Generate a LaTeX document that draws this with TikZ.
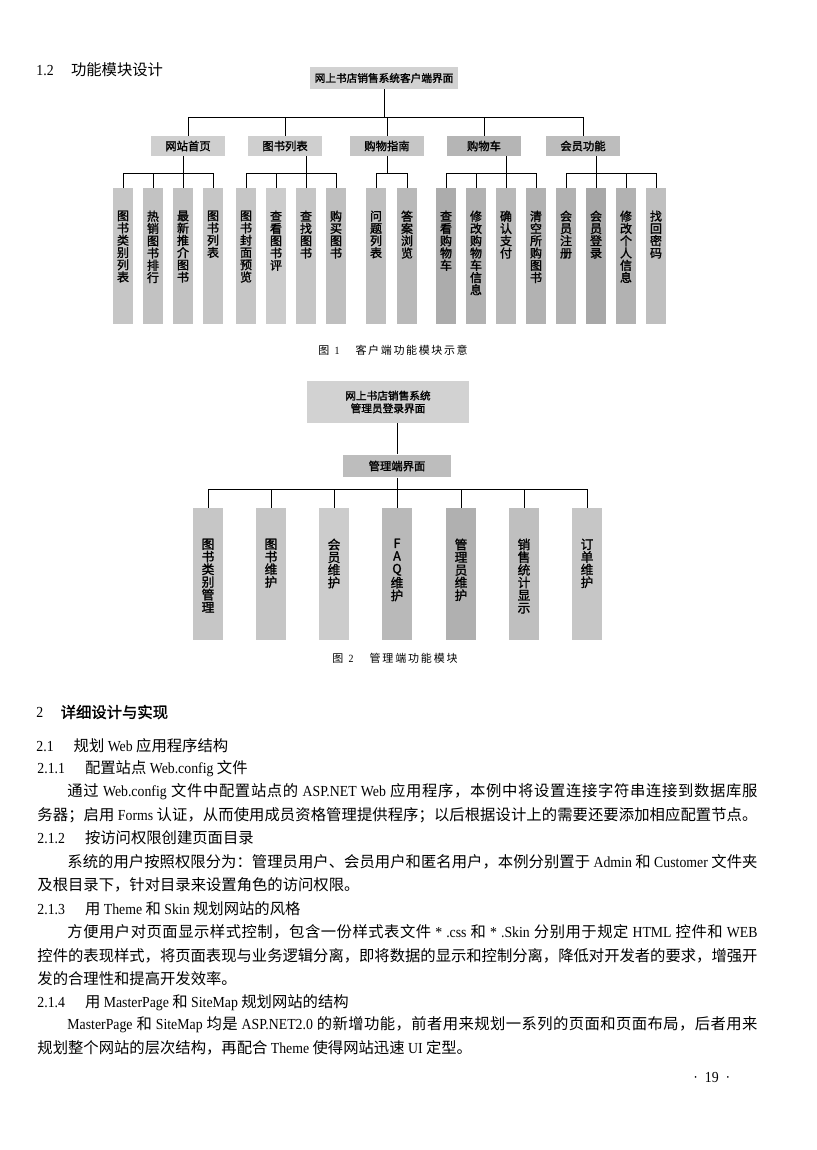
\documentclass[tikz,border=0pt]{standalone}
\usepackage{fontspec}
\setmainfont{Noto Sans CJK SC}
\newfontfamily\latf[FakeStretch=0.9]{Liberation Serif}
\newfontfamily\heifont[FakeBold=1.5]{Noto Sans CJK SC}
% stretchable glue between Chinese characters, for the justified lines
\XeTeXinterchartokenstate=1
\newXeTeXintercharclass\hanzicls
\newcount\hzc
\hzc="4E00
\loop \XeTeXcharclass\hzc=\hanzicls \advance\hzc by 1 \ifnum\hzc<"A000 \repeat
\XeTeXcharclass"FF0C=\hanzicls \XeTeXcharclass"FF1B=\hanzicls \XeTeXcharclass"FF1A=\hanzicls
\XeTeXcharclass"3001=\hanzicls \XeTeXcharclass"3002=\hanzicls
\XeTeXinterchartoks\hanzicls\hanzicls={\hskip 0pt plus 1pt minus 0.3pt\relax}
\newcommand{\lat}[1]{{\latf #1}}
% vertical labels inside the narrow boxes
\newcommand{\leaftxt}[1]{\parbox[c][102pt][t]{15pt}{\centering\heifont\fontsize{9}{9.2}\selectfont\vskip 17pt #1\par}}
\newcommand{\admintxt}[1]{\parbox[c][99pt][t]{22.5pt}{\centering\heifont\fontsize{9.5}{9.5}\selectfont\vskip 23pt #1\par}}

\begin{document}
\begin{tikzpicture}[x=0.75pt, y=-0.75pt, line width=0.7pt,
  rootbox/.style={fill=gray!35, inner sep=0, minimum width=111pt, minimum height=16pt, font=\heifont\fontsize{8}{9.5}\selectfont},
  modbox/.style={inner sep=0, minimum width=55.5pt, minimum height=15pt, font=\heifont\fontsize{8.5}{10}\selectfont},
  leaf/.style={inner sep=0, minimum width=15pt},
  adminleaf/.style={inner sep=0, minimum width=22.5pt},
  txt/.style={inner sep=0, anchor=west, font=\fontsize{11.5}{13}\selectfont},
  capt/.style={inner sep=0, font=\fontsize{8.25}{10}\selectfont}]
  % Page
  \fill[white] (0,0) rectangle (817,1150);
  \node[txt] (h12) at (36,70) {\lat{1.2}\hspace{13pt}功能模块设计};
  % Client side: root and modules
  \node[rootbox] (kroot) at (384,78) {网上书店销售系统客户端界面};
  \node[modbox, fill=gray!38] (m1) at (188,146) {网站首页};
  \node[modbox, fill=gray!38] (m2) at (285,146) {图书列表};
  \node[modbox, fill=gray!45] (m3) at (387,146) {购物指南};
  \node[modbox, fill=gray!58] (m4) at (484,146) {购物车};
  \node[modbox, fill=gray!52] (m5) at (583,146) {会员功能};
  \coordinate (kbus) at (0,117);
  \draw (m1.north) -- (m1.north |- kbus) -| (m5.north);
  \foreach \m in {m2,m3,m4}
    \draw (\m.north) -- (\m.north |- kbus);
  \draw (kroot.south) -- (kroot.south |- kbus);
  % Client side: leaves
  \node[leaf, fill=gray!45] (l11) at (123,256) {\leaftxt{图\\书\\类\\别\\列\\表}};
  \node[leaf, fill=gray!48] (l12) at (153,256) {\leaftxt{热\\销\\图\\书\\排\\行}};
  \node[leaf, fill=gray!48] (l13) at (183,256) {\leaftxt{最\\新\\推\\介\\图\\书}};
  \node[leaf, fill=gray!45] (l14) at (213,256) {\leaftxt{图\\书\\列\\表}};
  \node[leaf, fill=gray!45] (l21) at (246,256) {\leaftxt{图\\书\\封\\面\\预\\览}};
  \node[leaf, fill=gray!40] (l22) at (276,256) {\leaftxt{查\\看\\图\\书\\评}};
  \node[leaf, fill=gray!45] (l23) at (306,256) {\leaftxt{查\\找\\图\\书}};
  \node[leaf, fill=gray!50] (l24) at (336,256) {\leaftxt{购\\买\\图\\书}};
  \node[leaf, fill=gray!50] (l31) at (376,256) {\leaftxt{问\\题\\列\\表}};
  \node[leaf, fill=gray!55] (l32) at (407,256) {\leaftxt{答\\案\\浏\\览}};
  \node[leaf, fill=gray!65] (l41) at (446,256) {\leaftxt{查\\看\\购\\物\\车}};
  \node[leaf, fill=gray!60] (l42) at (476,256) {\leaftxt{修\\改\\购\\物\\车\\信\\息}};
  \node[leaf, fill=gray!55] (l43) at (506,256) {\leaftxt{确\\认\\支\\付}};
  \node[leaf, fill=gray!60] (l44) at (536,256) {\leaftxt{清\\空\\所\\购\\图\\书}};
  \node[leaf, fill=gray!60] (l51) at (566,256) {\leaftxt{会\\员\\注\\册}};
  \node[leaf, fill=gray!68] (l52) at (596,256) {\leaftxt{会\\员\\登\\录}};
  \node[leaf, fill=gray!60] (l53) at (626,256) {\leaftxt{修\\改\\个\\人\\信\\息}};
  \node[leaf, fill=gray!50] (l54) at (656,256) {\leaftxt{找\\回\\密\\码}};
  \coordinate (lbus) at (0,173);
  \draw (l11.north) -- (l11.north |- lbus) -| (l14.north);
  \draw (l13.north |- m1.south) -- (l13.north);
  \draw (l12.north) -- (l12.north |- lbus);
  \draw (l21.north) -- (l21.north |- lbus) -| (l24.north);
  \draw (l23.north |- m2.south) -- (l23.north);
  \draw (l22.north) -- (l22.north |- lbus);
  \draw (l31.north) -- (l31.north |- lbus) -| (l32.north);
  \draw (m3.south) -- (m3.south |- lbus);
  \draw (l41.north) -- (l41.north |- lbus) -| (l44.north);
  \draw (l43.north |- m4.south) -- (l43.north);
  \draw (l42.north) -- (l42.north |- lbus);
  \draw (l51.north) -- (l51.north |- lbus) -| (l54.north);
  \draw (l52.north |- m5.south) -- (l52.north);
  \draw (l53.north) -- (l53.north |- lbus);
  \node[capt] (cap1) at (393,350) {\makebox[112pt][s]{图\hspace{4pt}\lat{1}\hspace{12pt}客户端功能模块示意}};
  % Admin side
  \node[rootbox, minimum width=121pt, minimum height=31pt, align=center] (aroot) at (388,402) {网上书店销售系统\\管理员登录界面};
  \node[modbox, minimum width=81pt, minimum height=17pt, fill=gray!52] (amgr) at (397,466) {管理端界面};
  \node[adminleaf, fill=gray!45] (a1) at (208,574) {\admintxt{图\\书\\类\\别\\管\\理}};
  \node[adminleaf, fill=gray!45] (a2) at (271,574) {\admintxt{图\\书\\维\\护}};
  \node[adminleaf, fill=gray!40] (a3) at (334,574) {\admintxt{会\\员\\维\\护}};
  \node[adminleaf, fill=gray!55] (a4) at (397,574) {\admintxt{F\\A\\Q\\维\\护}};
  \node[adminleaf, fill=gray!62] (a5) at (461,574) {\admintxt{管\\理\\员\\维\\护}};
  \node[adminleaf, fill=gray!50] (a6) at (524,574) {\admintxt{销\\售\\统\\计\\显\\示}};
  \node[adminleaf, fill=gray!45] (a7) at (587,574) {\admintxt{订\\单\\维\\护}};
  \coordinate (abus) at (0,489);
  \draw (amgr.north |- aroot.south) -- (amgr.north);
  \draw (amgr.south) -- (a4.north);
  \draw (a1.north) -- (a1.north |- abus) -| (a7.north);
  \foreach \a in {a2,a3,a5,a6}
    \draw (\a.north) -- (\a.north |- abus);
  \node[capt] (cap2) at (395,658) {\makebox[94pt][s]{图\hspace{4pt}\lat{2}\hspace{12pt}管理端功能模块}};
  % Text of the page
  \node[txt] (s2) at (36,712) {\lat{2}\hspace{13pt}\heifont 详细设计与实现};
  \node[txt] (s21) at (36,746) {\lat{2.1}\hspace{15pt}规划 \lat{Web} 应用程序结构};
  \node[txt] (s211) at (37,769) {\lat{2.1.1}\hspace{15pt}配置站点 \lat{Web.config} 文件};
  \node[txt] (p1a) at (67,792) {\makebox[517.5pt][s]{通过 \lat{Web.config} 文件中配置站点的 \lat{ASP.NET Web} 应用程序，本例中将设置连接字符串连接到数据库服}};
  \node[txt] (p1b) at (37,815) {\makebox[540pt][s]{务器；启用 \lat{Forms} 认证，从而使用成员资格管理提供程序；以后根据设计上的需要还要添加相应配置节点。}};
  \node[txt] (s212) at (37,838) {\lat{2.1.2}\hspace{15pt}按访问权限创建页面目录};
  \node[txt] (p2a) at (67,862) {\makebox[517.5pt][s]{系统的用户按照权限分为：管理员用户、会员用户和匿名用户，本例分别置于 \lat{Admin} 和 \lat{Customer} 文件夹}};
  \node[txt] (p2b) at (37,885) {及根目录下，针对目录来设置角色的访问权限。};
  \node[txt] (s213) at (37,909) {\lat{2.1.3}\hspace{15pt}用 \lat{Theme} 和 \lat{Skin} 规划网站的风格};
  \node[txt] (p3a) at (67,932) {\makebox[517.5pt][s]{方便用户对页面显示样式控制，包含一份样式表文件 \lat{* .css} 和 \lat{* .Skin} 分别用于规定 \lat{HTML} 控件和 \lat{WEB}}};
  \node[txt] (p3b) at (37,956) {\makebox[540pt][s]{控件的表现样式，将页面表现与业务逻辑分离，即将数据的显示和控制分离，降低对开发者的要求，增强开}};
  \node[txt] (p3c) at (37,979) {发的合理性和提高开发效率。};
  \node[txt] (s214) at (37,1003) {\lat{2.1.4}\hspace{15pt}用 \lat{MasterPage} 和 \lat{SiteMap} 规划网站的结构};
  \node[txt] (p4a) at (67,1025) {\makebox[517.5pt][s]{\lat{MasterPage} 和 \lat{SiteMap} 均是 \lat{ASP.NET2.0} 的新增功能，前者用来规划一系列的页面和页面布局，后者用来}};
  \node[txt] (p4b) at (37,1048) {规划整个网站的层次结构，再配合 \lat{Theme} 使得网站迅速 \lat{UI} 定型。};
  \node[txt] (pnum) at (693,1077) {\lat{·\ \ 19\ \ ·}};
\end{tikzpicture}
\end{document}
